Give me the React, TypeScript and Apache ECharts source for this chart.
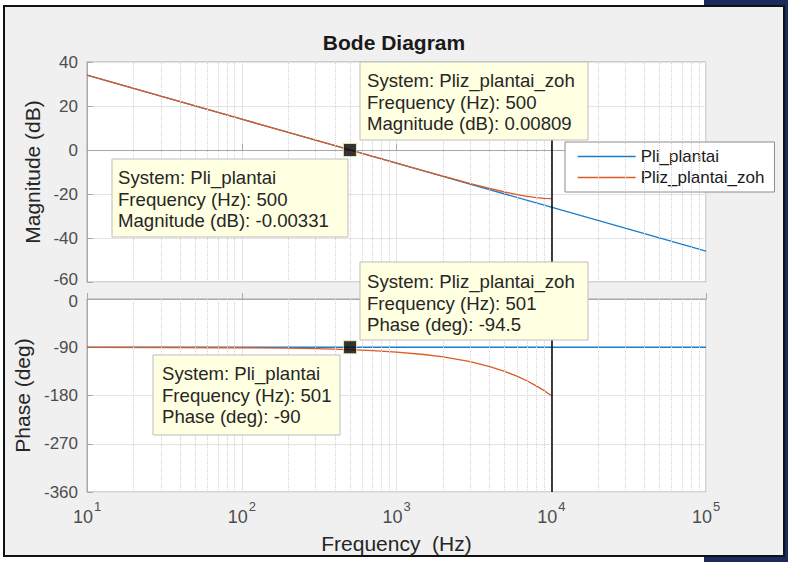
import { useEffect, useRef } from 'react';
import * as echarts from 'echarts';

const FONT = '"Liberation Sans", Arial, Helvetica, sans-serif';

// x axis (Hz, log)
const FREQ_MIN = 10;
const FREQ_MAX = 100000;
const MINOR_FREQS = [
  20, 30, 40, 50, 60, 70, 80, 90,
  200, 300, 400, 500, 600, 700, 800, 900,
  2000, 3000, 4000, 5000, 6000, 7000, 8000, 9000,
  20000, 30000, 40000, 50000, 60000, 70000, 80000, 90000,
];
const NYQUIST = 10000;

// y axes: [min, max, interval]
const MAG_AXIS = [-60, 40, 20];
const PHASE_AXIS = [-360, 0, 90];

// continuous plant
const PLI_FREQ = [10, 100, 1000, 10000, 100000];
const PLI_MAG = [34.0, 14.0, -6.0, -26.0, -46.0];
const PLI_PHASE = [-90, -90, -90, -90, -90];

// ZOH discretised plant (up to Nyquist)
const ZOH_FREQ = [10, 100, 200, 300, 500, 700, 1000, 1500, 2000, 3000, 4000, 5000, 6000, 7000, 8000, 9000, 10000];
const ZOH_MAG = [33.98, 13.98, 7.96, 4.44, 0.01, -2.91, -5.98, -9.46, -11.9, -15.24, -17.48, -19.09, -20.25, -21.09, -21.66, -22.0, -22.1];
const ZOH_PHASE = [-90.1, -90.9, -91.8, -92.7, -94.5, -96.3, -99, -103.5, -108, -117, -126, -135, -144, -153, -162, -171, -180];

// data tips
const TIP_MAG_POINT = [500, 0];
const TIP_PHASE_POINT = [501, -90];
const TIP_ZOH_MAG = ['System: Pliz_plantai_zoh', 'Frequency (Hz): 500', 'Magnitude (dB): 0.00809'];
const TIP_PLI_MAG = ['System: Pli_plantai', 'Frequency (Hz): 500', 'Magnitude (dB): -0.00331'];
const TIP_ZOH_PHASE = ['System: Pliz_plantai_zoh', 'Frequency (Hz): 501', 'Phase (deg): -94.5'];
const TIP_PLI_PHASE = ['System: Pli_plantai', 'Frequency (Hz): 501', 'Phase (deg): -90'];

const BLUE = '#1a7dcc';
const ORANGE = '#dd5a22';
const AXIS_GREY = '#a8a8a8';
const GRID_GREY = '#e3e3e3';
const LABEL_GREY = '#4d4d4d';

function tip(x: number, y: number, w: number, h: number, tx: number, ty: number, lines: string[]) {
  return {
    type: 'group',
    z: 100,
    children: [
      {
        type: 'rect',
        z: 100,
        shape: { x, y, width: w, height: h },
        style: { fill: '#ffffe1', stroke: '#bdbdbd', lineWidth: 1 },
      },
      {
        type: 'text',
        z: 101,
        style: {
          x: tx,
          y: ty,
          text: lines.join('\n'),
          font: `18.6px ${FONT}`,
          fill: '#262626',
          lineHeight: 21.5,
          align: 'left',
          verticalAlign: 'top',
        },
      },
    ],
  };
}

function xAxisOpt(gridIndex: number, showLabels: boolean) {
  return {
    type: 'log',
    logBase: 10,
    gridIndex,
    min: FREQ_MIN,
    max: FREQ_MAX,
    name: showLabels ? 'Frequency  (Hz)' : '',
    nameLocation: 'middle',
    nameGap: 41,
    nameTextStyle: { fontFamily: FONT, fontSize: 21, color: '#262626', verticalAlign: 'top' },
    axisLine: { show: true, lineStyle: { color: AXIS_GREY, width: 1 } },
    axisTick: { show: true, inside: true, length: 6, lineStyle: { color: AXIS_GREY } },
    splitLine: { show: true, lineStyle: { color: GRID_GREY, width: 1 } },
    axisLabel: {
      show: showLabels,
      margin: 8,
      formatter: (v: number) => `{b|10}{s|${Math.round(Math.log10(v))}}`,
      rich: {
        b: { fontFamily: FONT, fontSize: 18, color: LABEL_GREY, lineHeight: 26, verticalAlign: 'bottom' },
        s: { fontFamily: FONT, fontSize: 13, color: LABEL_GREY, lineHeight: 12, verticalAlign: 'top', padding: [0, 0, 0, 1] },
      },
    },
  };
}

// edge: value whose label is nudged away from the neighbouring axes' label, and the padding used
function yAxisOpt(gridIndex: number, range: number[], name: string, nameGap: number, edge: number, edgePad: number[]) {
  return {
    type: 'value',
    gridIndex,
    min: range[0],
    max: range[1],
    interval: range[2],
    name,
    nameLocation: 'middle',
    nameGap,
    nameTextStyle: { fontFamily: FONT, fontSize: 21, color: '#262626' },
    axisLine: { show: true, lineStyle: { color: AXIS_GREY, width: 1 } },
    axisTick: { show: true, inside: true, length: 6, lineStyle: { color: AXIS_GREY } },
    splitLine: { show: true, lineStyle: { color: GRID_GREY, width: 1 } },
    axisLabel: {
      fontFamily: FONT,
      fontSize: 17,
      color: LABEL_GREY,
      margin: 9,
      formatter: (v: number) => (v === edge ? `{e|${v}}` : `{n|${v}}`),
      rich: {
        n: { fontFamily: FONT, fontSize: 17, color: LABEL_GREY, lineHeight: 17 },
        e: { fontFamily: FONT, fontSize: 17, color: LABEL_GREY, lineHeight: 17, padding: edgePad },
      },
    },
  };
}

function helperSeries(idx: number) {
  return {
    type: 'line',
    name: 'grid' + idx,
    xAxisIndex: idx,
    yAxisIndex: idx,
    data: [],
    z: 1,
    silent: true,
    markLine: {
      silent: true,
      symbol: ['none', 'none'],
      label: { show: false },
      animation: false,
      lineStyle: { type: 'dotted', color: '#d2d2d2', width: 1 },
      data: [
        ...MINOR_FREQS.map((f) => ({ xAxis: f })),
        { xAxis: NYQUIST, lineStyle: { type: 'solid', color: '#000000', width: 1.5 } },
      ],
    },
  };
}

export default function App() {
  const ref = useRef<HTMLDivElement>(null);

  useEffect(() => {
    if (!ref.current) return;
    const chart = echarts.init(ref.current, undefined, { renderer: 'svg' });
    const lineBase = { type: 'line', symbol: 'none', showSymbol: false, smooth: false, z: 3 };
    chart.setOption({
      animation: false,
      backgroundColor: 'transparent',
      textStyle: { fontFamily: FONT },
      title: {
        text: 'Bode Diagram',
        left: 'center',
        top: 27,
        textStyle: { fontFamily: FONT, fontSize: 21, fontWeight: 'bold', color: '#1a1a1a' },
      },
      legend: {
        data: ['Pli_plantai', 'Pliz_plantai_zoh'],
        orient: 'vertical',
        left: 565,
        top: 142,
        padding: [6, 10, 6, 12],
        itemWidth: 58,
        itemHeight: 14,
        itemGap: 4,
        itemStyle: { opacity: 0, borderWidth: 0 },
        lineStyle: { width: 1.3 },
        backgroundColor: '#ffffff',
        borderColor: '#8c8c8c',
        borderWidth: 1,
        borderRadius: 0,
        textStyle: { fontFamily: FONT, fontSize: 17, color: '#1a1a1a', lineHeight: 17 },
      },
      grid: [
        { left: 87, top: 62, width: 619, height: 220, show: true, backgroundColor: '#ffffff', borderColor: AXIS_GREY, borderWidth: 1 },
        { left: 87, top: 299, width: 619, height: 193, show: true, backgroundColor: '#ffffff', borderColor: AXIS_GREY, borderWidth: 1 },
      ],
      xAxis: [xAxisOpt(0, false), xAxisOpt(1, true)],
      yAxis: [
        yAxisOpt(0, MAG_AXIS, 'Magnitude (dB)', 40, MAG_AXIS[0], [0, 0, 6, 0]),
        yAxisOpt(1, PHASE_AXIS, 'Phase (deg)', 51, PHASE_AXIS[1], [5, 0, 0, 0]),
      ],
      series: [
        helperSeries(0),
        helperSeries(1),
        {
          ...lineBase,
          name: 'Pli_plantai',
          xAxisIndex: 0,
          yAxisIndex: 0,
          color: BLUE,
          lineStyle: { color: BLUE, width: 1.3 },
          data: PLI_FREQ.map((f, i) => [f, PLI_MAG[i]]),
        },
        {
          ...lineBase,
          name: 'Pliz_plantai_zoh',
          xAxisIndex: 0,
          yAxisIndex: 0,
          color: ORANGE,
          lineStyle: { color: ORANGE, width: 1.3 },
          data: ZOH_FREQ.map((f, i) => [f, ZOH_MAG[i]]),
        },
        {
          ...lineBase,
          name: 'Pli_plantai',
          xAxisIndex: 1,
          yAxisIndex: 1,
          color: BLUE,
          lineStyle: { color: BLUE, width: 1.3 },
          data: PLI_FREQ.map((f, i) => [f, PLI_PHASE[i]]),
        },
        {
          ...lineBase,
          name: 'Pliz_plantai_zoh',
          xAxisIndex: 1,
          yAxisIndex: 1,
          color: ORANGE,
          lineStyle: { color: ORANGE, width: 1.3 },
          data: ZOH_FREQ.map((f, i) => [f, ZOH_PHASE[i]]),
        },
        {
          type: 'scatter',
          name: 'tipMag',
          xAxisIndex: 0,
          yAxisIndex: 0,
          symbol: 'rect',
          symbolSize: 13,
          z: 20,
          itemStyle: { color: '#000000', borderColor: '#f5f0b0', borderWidth: 1 },
          data: [TIP_MAG_POINT],
        },
        {
          type: 'scatter',
          name: 'tipPhase',
          xAxisIndex: 1,
          yAxisIndex: 1,
          symbol: 'rect',
          symbolSize: 13,
          z: 20,
          itemStyle: { color: '#000000', borderColor: '#f5f0b0', borderWidth: 1 },
          data: [TIP_PHASE_POINT],
        },
      ],
      graphic: [
        tip(360, 62, 228, 78, 367, 70, TIP_ZOH_MAG),
        tip(112, 159, 236, 78, 118, 167, TIP_PLI_MAG),
        tip(360, 262, 228, 78, 367, 271, TIP_ZOH_PHASE),
        tip(153, 355, 187, 80, 162, 363, TIP_PLI_PHASE),
      ],
    });
    return () => chart.dispose();
  }, []);

  return (
    <div style={{ position: 'absolute', left: 0, top: 0, width: 788, height: 562, background: '#ffffff', overflow: 'hidden' }}>
      <div style={{ position: 'absolute', left: 704, top: 0, width: 84, height: 562, background: '#1b2a5c' }} />
      <div
        style={{
          position: 'absolute',
          left: 3,
          top: 5,
          width: 778,
          height: 548,
          background: '#f0f0f0',
          border: '2px solid #111111',
        }}
      />
      <div ref={ref} style={{ position: 'absolute', left: 0, top: 0, width: 788, height: 562 }} />
    </div>
  );
}
